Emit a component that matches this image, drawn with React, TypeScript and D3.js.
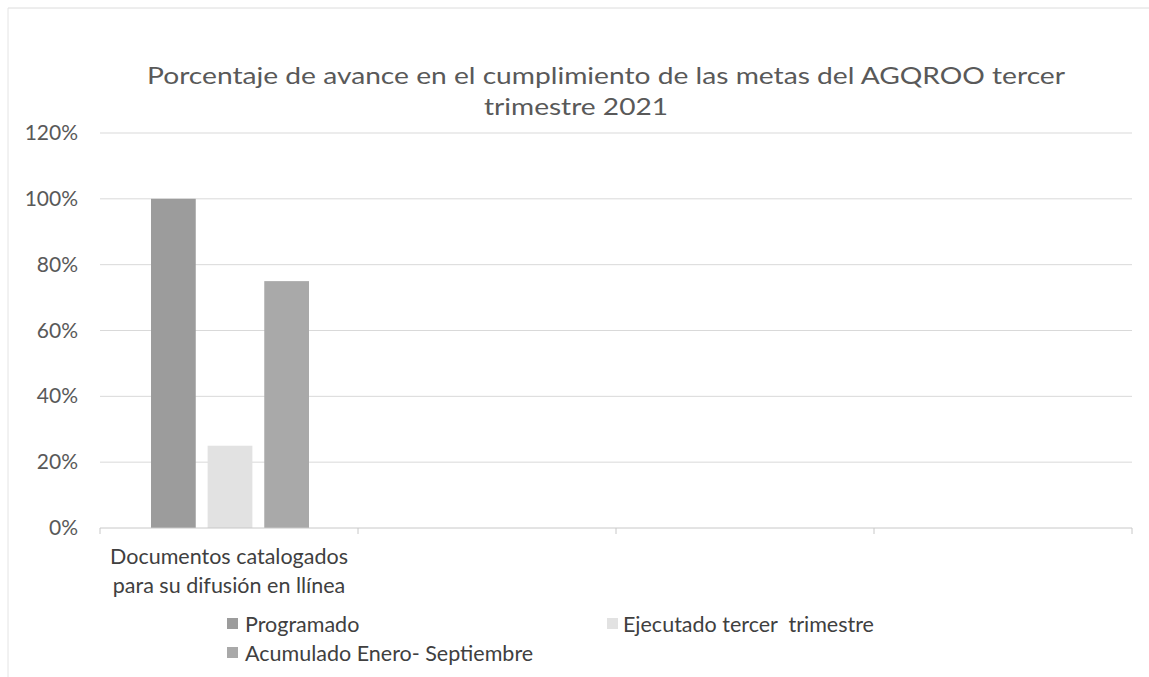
import React from 'react';
import * as d3 from 'd3';

const title = ['Porcentaje de avance en el cumplimiento de las metas del AGQROO tercer', 'trimestre 2021'];
const categories = ['c1', 'c2', 'c3', 'c4'];
const categoryLabels = [['Documentos catalogados', 'para su difusión en llínea'], [], [], []];
const series = ['Programado', 'Ejecutado tercer  trimestre', 'Acumulado Enero- Septiembre'];
const programado = [1.0, null, null, null];
const ejecutado = [0.25, null, null, null];
const acumulado = [0.75, null, null, null];
const yTicks = [0, 0.2, 0.4, 0.6, 0.8, 1.0, 1.2];

const colors = ['#9c9c9c', '#e2e2e2', '#a9a9a9'];
const font = 'Lato, "Open Sans", sans-serif';
const textColor = '#595959';

const App = () => {
    const values = [programado, ejecutado, acumulado];

    const x = d3.scaleBand()
        .domain(categories)
        .range([100, 1132]);

    const x1 = d3.scaleBand()
        .domain(series)
        .range([51, 209])
        .paddingInner(0.21);

    const y = d3.scaleLinear()
        .domain([0, 1.2])
        .range([528, 133]);

    const fmt = d3.format('.0%');
    const boundaries = categories.map(c => x(c)).concat([x.range()[1]]);

    return (
        <svg width={1149} height={677} style={{ position: 'absolute', left: 0, top: 0, background: '#fff' }}>
            {/* faint frame of the scanned chart */}
            <line x1={8} x2={1149} y1={8} y2={8} stroke="#dcdcdc" />
            <line x1={8} x2={8} y1={8} y2={677} stroke="#e4e4e4" />

            {title.map((t, i) => (
                <text key={i} x={i === 0 ? 606 : 576} y={84 + i * 31} textAnchor="middle"
                    fontFamily={font} fontSize={24} fill={textColor}
                    textLength={i === 0 ? 918 : 184} lengthAdjust="spacingAndGlyphs">{t}</text>
            ))}

            {yTicks.map(t => (
                <g key={t}>
                    {t > 0 && <line x1={100} x2={1132} y1={y(t)} y2={y(t)} stroke="#d9d9d9" />}
                    <text x={78} y={y(t) + 7} textAnchor="end" fontFamily={font} fontSize={21} fill={textColor}>
                        {fmt(t)}
                    </text>
                </g>
            ))}

            {categories.map((c, ci) => (
                <g key={c}>
                    {series.map((s, si) => {
                        const v = values[si][ci];
                        if (v == null) return null;
                        return (
                            <rect key={s} x={x(c) + x1(s)} y={y(v)} width={x1.bandwidth()}
                                height={y(0) - y(v)} fill={colors[si]} />
                        );
                    })}
                    {categoryLabels[ci].map((l, li) => (
                        <text key={li} x={x(c) + x.bandwidth() / 2} y={564 + li * 29} textAnchor="middle"
                            fontFamily={font} fontSize={21.5} fill="#404040">{l}</text>
                    ))}
                </g>
            ))}

            <line x1={100} x2={1132} y1={y(0)} y2={y(0)} stroke="#c8c8c8" />
            {boundaries.map((b, i) => (
                <line key={i} x1={b} x2={b} y1={y(0)} y2={y(0) + 6} stroke="#c8c8c8" />
            ))}

            {/* legend */}
            {series.map((s, i) => {
                const lx = i === 1 ? 607 : 227;
                const ly = i === 2 ? 652 : 623;
                return (
                    <g key={s}>
                        <rect x={lx} y={ly - 5} width={11} height={11} fill={colors[i]} />
                        <text x={lx + (i === 1 ? 16 : 18)} y={ly + 9} fontFamily={font} fontSize={21.5}
                            fill="#404040" style={{ whiteSpace: 'pre' }}>{s}</text>
                    </g>
                );
            })}
        </svg>
    );
};

export default App;
